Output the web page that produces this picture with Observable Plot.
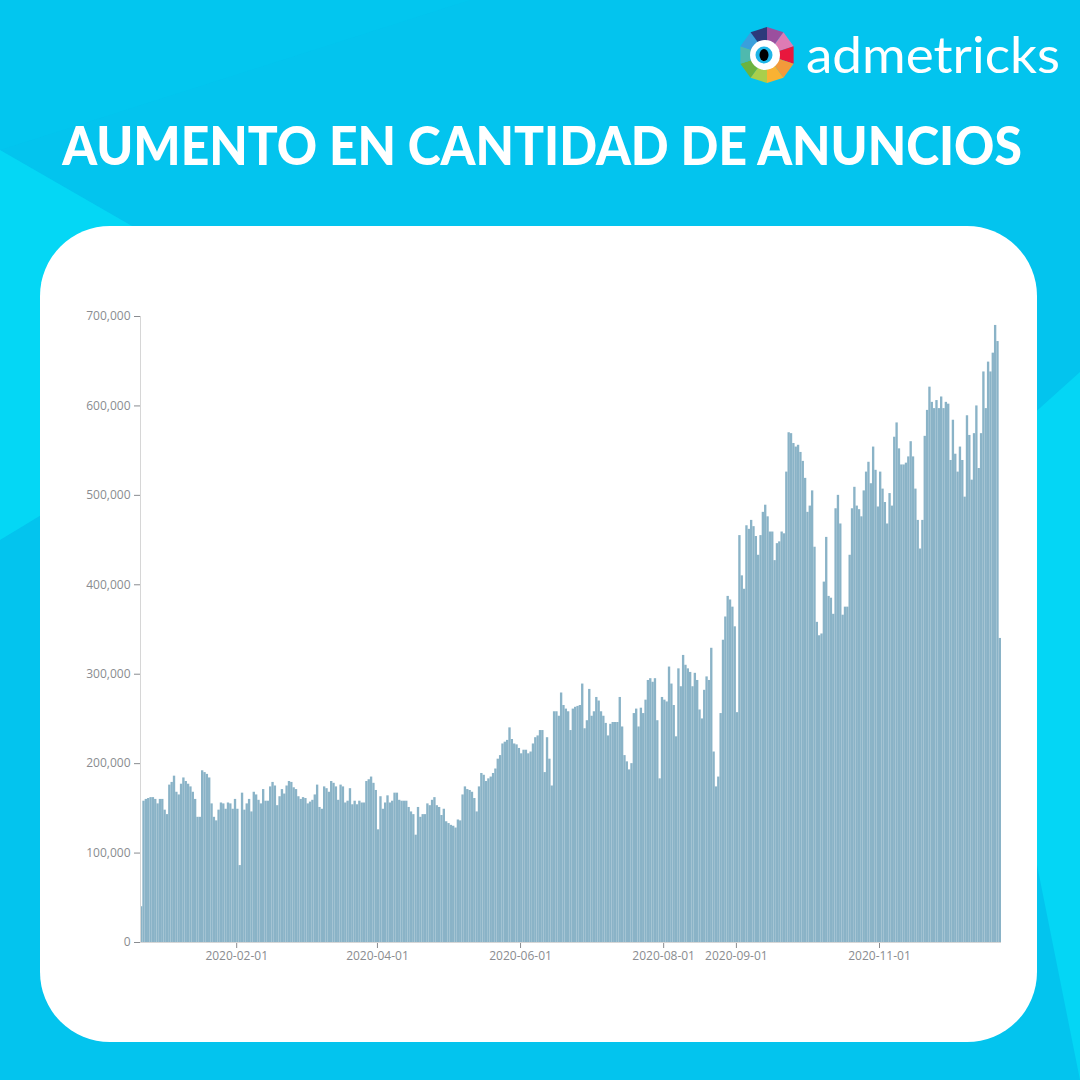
<!DOCTYPE html>
<html>
<head>
<meta charset="utf-8">
<script src="https://cdn.jsdelivr.net/npm/d3@7"></script>
<script src="https://cdn.jsdelivr.net/npm/@observablehq/plot@0.6"></script>
<style>
  html, body { margin: 0; padding: 0; }
  body { width: 1080px; height: 1080px; overflow: hidden; }
  #page { position: relative; width: 1080px; height: 1080px; background: #03c4ee; overflow: hidden; }
  #bg, #header { position: absolute; left: 0; top: 0; overflow: visible; }
  #card { position: absolute; left: 40px; top: 226px; width: 997px; height: 816px; background: #fff; border-radius: 70px; }
  #chart { position: absolute; left: 60px; top: 300px; }
  #chart svg line { stroke: #d6d6d6; }
</style>
</head>
<body>
<div id="page">
  <svg id="bg" width="1080" height="1080">
    <polygon points="0,150 330,340 0,540" fill="#05dbf6" opacity="0.85"></polygon>
    <polygon points="0,0 470,0 0,150" fill="#02c8f0" opacity="0.6"></polygon>
    <polygon points="1080,372 960,480 1080,1080" fill="#04d8f5" opacity="0.9"></polygon>
  </svg>
  <div id="card"></div>
  <div id="chart"></div>
  <svg id="header" width="1080" height="230">
    <g id="logo"></g>
    <text id="brand" x="806" y="73" font-family="Lato, 'Open Sans', sans-serif" font-size="50" font-weight="400" fill="#ffffff">admetricks</text>
    <text id="title" x="0" y="0" text-anchor="middle" font-family="Lato, sans-serif" font-weight="900" font-size="54" fill="#ffffff">AUMENTO EN CANTIDAD DE ANUNCIOS</text>
  </svg>
</div>
<script>
// Daily number of ads (thousands), one array per month
const dec2019 = [40,158,160,161,162,162,160,155,160,160];
const jan2020 = [148,143,176,179,186,168,165,177,184,180,177,174,168,160,140,140,192,190,188,184,155,140,136,148,156,155,149,156,155,149,160];
const feb2020 = [149,86,167,148,155,160,146,168,165,159,155,171,158,158,174,179,175,153,163,171,166,175,180,179,173,171,163,160,162];
const mar2020 = [161,155,157,159,165,176,151,149,174,172,168,180,178,174,159,176,174,156,158,172,154,158,154,158,156,156,180,182,185,178,170];
const apr2020 = [126,163,149,156,164,156,158,167,167,159,158,158,158,151,146,143,120,151,140,143,143,155,153,159,162,153,151,142,149,135];
const may2020 = [133,131,130,128,137,136,165,174,171,170,168,161,146,174,189,187,180,183,185,189,194,205,209,222,224,226,240,227,222,221,217];
const jun2020 = [211,215,215,211,213,222,229,231,237,237,190,229,205,175,258,258,253,279,265,261,258,237,261,263,264,265,289,239,248,283];
const jul2020 = [253,258,274,270,258,253,245,231,244,246,246,246,274,241,209,202,193,200,256,261,241,262,256,271,293,295,291,295,248,183,274];
const aug2020 = [271,269,308,289,265,230,306,286,321,310,306,302,286,301,293,260,250,282,297,293,329,213,174,185,256,338,364,387,383,375,353];
const sep2020 = [257,455,410,395,466,462,472,465,454,433,455,481,489,476,459,459,427,446,448,459,457,526,570,569,558,554,556,548,538,519];
const oct2020 = [481,488,505,442,358,343,345,403,453,387,385,367,485,500,468,366,375,375,433,485,509,488,484,476,505,526,537,513,554,528,487];
const nov2020 = [526,507,492,468,502,488,565,581,552,534,534,536,543,560,543,507,472,440,472,566,595,621,604,597,606,597,610,597,604,602];
const dec2020 = [539,584,546,526,554,539,498,589,567,517,569,600,530,569,638,597,649,638,659,690,672,340];

const startDay = ["2019-12-22"];
const xTickLabels = ["2020-02-01", "2020-04-01", "2020-06-01", "2020-08-01", "2020-09-01", "2020-11-01"];
const yTickValues = [0, 100000, 200000, 300000, 400000, 500000, 600000, 700000];

const parse = d3.utcParse("%Y-%m-%d");
const start = parse(startDay[0]);
const values = [dec2019, jan2020, feb2020, mar2020, apr2020, may2020, jun2020, jul2020, aug2020, sep2020, oct2020, nov2020, dec2020].flat();
const data = values.map((v, i) => ({
  date: d3.utcDay.offset(start, i),
  next: d3.utcDay.offset(start, i + 1),
  value: v * 1000
}));
const end = d3.utcDay.offset(start, values.length);

const chart = Plot.plot({
  width: 960,
  height: 680,
  marginLeft: 80,
  marginRight: 19,
  marginTop: 16,
  marginBottom: 38,
  style: { background: "transparent", fontFamily: "'Open Sans', sans-serif", fontSize: "12px", color: "#8a8c90", overflow: "visible" },
  x: { type: "utc", domain: [start, end], ticks: xTickLabels.map(parse), tickFormat: d3.utcFormat("%Y-%m-%d"), tickSize: 6, tickPadding: 3, label: null },
  y: { domain: [0, 700000], ticks: yTickValues, tickFormat: d3.format(","), tickSize: 6, tickPadding: 4, label: null },
  marks: [
    Plot.rectY(data, { x1: "date", x2: "next", y: "value", fill: "#8ab3c7", insetLeft: 0, insetRight: 0 }),
    Plot.ruleY([0], { stroke: "#d0d0d0" }),
    Plot.ruleX([start], { y1: 0, y2: 700000, stroke: "#dcdcdc" })
  ]
});
document.getElementById("chart").appendChild(chart);

// Fit title width (x 62..1022) with a transform
const title = document.getElementById("title");
const tw = title.getComputedTextLength();
title.setAttribute("transform", `translate(542,165) scale(${960 / tw},1)`);
const brand = document.getElementById("brand");
const bw = brand.getComputedTextLength();
brand.setAttribute("transform", `translate(806,73) scale(${254 / bw},1)`);
brand.setAttribute("x", 0);
brand.setAttribute("y", 0);

// Logo icon (decorative)
const logo = d3.select("#logo");
const cx = 767, cy = 55, rx = 28, ry = 28;
const logoColors = ["#9b4f9e", "#de7bb4", "#e8173d", "#f39a3a", "#f9b233", "#a9cf4b", "#6cb33f", "#4fb9ae", "#3a9fdc", "#2c3a7b"];
const n = logoColors.length;
for (let k = 0; k < n; k++) {
  const a0 = -Math.PI / 2 + (k - 0.5) * 2 * Math.PI / n + Math.PI / n;
  const a1 = a0 + 2 * Math.PI / n;
  logo.append("polygon")
    .attr("points", `${cx},${cy} ${cx + rx * Math.cos(a0)},${cy + ry * Math.sin(a0)} ${cx + rx * Math.cos(a1)},${cy + ry * Math.sin(a1)}`)
    .attr("fill", logoColors[k]);
}
logo.append("circle").attr("cx", cx - 2).attr("cy", cy).attr("r", 15).attr("fill", "#ffffff");
logo.append("circle").attr("cx", cx - 3).attr("cy", cy).attr("r", 8.5).attr("fill", "#1fb6e8");
logo.append("ellipse").attr("cx", cx - 3).attr("cy", cy).attr("rx", 4.5).attr("ry", 6).attr("fill", "#000000");
</script>
</body>
</html>
